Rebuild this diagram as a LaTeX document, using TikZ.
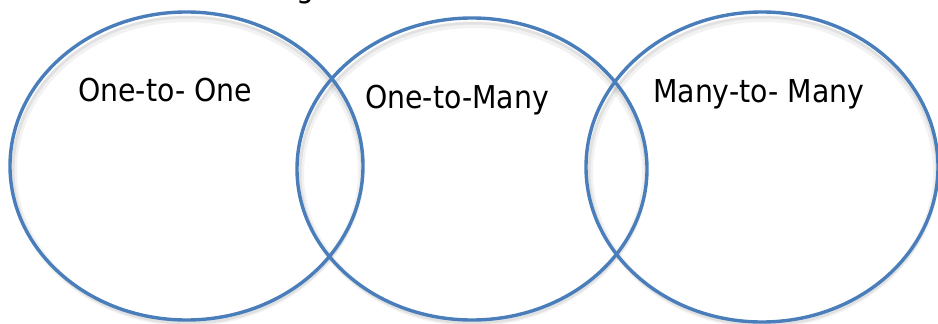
\documentclass[tikz,border=0pt]{standalone}
\usepackage{fontspec}
\usetikzlibrary{shapes.geometric}
\newfontfamily\labelfont{DejaVu Sans Condensed}
\definecolor{ringblue}{HTML}{4A7EBB}
\begin{document}
\begin{tikzpicture}[x=1pt,y=-1pt,
  ring/.style={draw=ringblue, line width=3.4pt, ellipse, inner sep=0pt},
  ringshadow/.style={draw=black, line width=6pt, opacity=0.05},
  lbl/.style={anchor=base west, inner sep=0pt, font=\labelfont\fontsize{31.5}{31.5}\selectfont, text=black}]
\useasboundingbox (0,0) rectangle (938,324);
% shadows
\foreach \cx/\cy/\rx/\ry in {186.5/166/176.5/154, 472/169/175/151, 762/167/176/155}{
  \draw[ringshadow] (\cx+1,\cy+5) ellipse [x radius=\rx-3, y radius=\ry-2];
  \draw[ringshadow, line width=3pt, opacity=0.07] (\cx+1,\cy+4) ellipse [x radius=\rx-2, y radius=\ry-1];
}
% rings
\node[ring, minimum width=353pt, minimum height=308pt] (r1) at (186.5,166) {};
\node[ring, minimum width=350pt, minimum height=302pt] (r2) at (472,169) {};
\node[ring, minimum width=352pt, minimum height=310pt] (r3) at (762,167) {};
% cut-off title letter
\node[lbl] (title) at (296,-2) {g};
% labels
\node[lbl] (one) at (78,101) {One-to- One};
\node[lbl] (onemany) at (365,108) {One-to-Many};
\node[lbl] (many) at (653,102) {Many-to- Many};
\end{tikzpicture}
\end{document}
